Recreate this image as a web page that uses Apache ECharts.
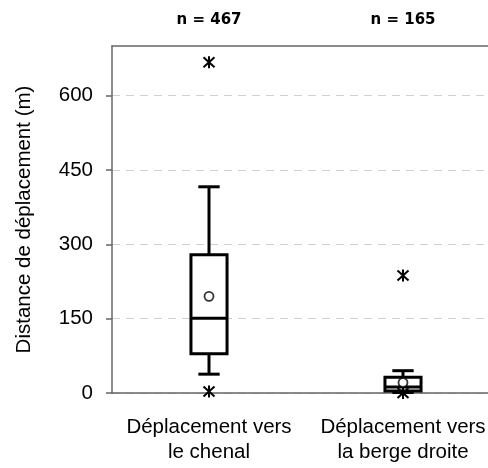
<!DOCTYPE html>
<html><head><meta charset="utf-8">
<script src="https://cdn.jsdelivr.net/npm/echarts@6/dist/echarts.min.js"></script>
<style>html,body{margin:0;padding:0;background:#fff}#c{width:488px;height:468px}</style>
</head><body><div id="c"></div>
<script>
const categories = ['Déplacement vers\nle chenal', 'Déplacement vers\nla berge droite'];
const counts = ['n = 467', 'n = 165'];
// [low whisker, Q1, median, Q3, high whisker]
const boxStats = [[38, 79, 151, 279, 416], [1, 4, 12, 32, 45]];
const means = [195, 21];
const outliers = [[0, 667], [0, 3], [1, 237], [1, 0]];
const yTicks = [0, 150, 300, 450, 600];

const chart = echarts.init(document.getElementById('c'), null, {renderer: 'canvas'});
const FONT = 'Liberation Sans, Arial, sans-serif';
const boxData = boxStats.map((s, i) => [i].concat(s));
const meanData = means.map((m, i) => [i, m]);

chart.setOption({
  animation: false,
  backgroundColor: '#fff',
  grid: {left: 112, top: 46, width: 388, height: 347, outerBoundsMode: 'none', containLabel: false},
  xAxis: [{
    type: 'category', data: categories, position: 'bottom',
    axisLine: {lineStyle: {color: '#666', width: 1.5}},
    axisTick: {show: false},
    axisLabel: {color: '#000', fontSize: 20.5, fontFamily: FONT, lineHeight: 25, margin: 22, interval: 0}
  }, {
    type: 'category', data: counts, position: 'top',
    axisLine: {lineStyle: {color: '#666', width: 1.5}},
    axisTick: {show: false},
    axisLabel: {color: '#000', fontSize: 15, fontWeight: 'bold', fontFamily: 'DejaVu Sans, sans-serif', margin: 18, interval: 0}
  }],
  yAxis: {
    type: 'value', min: 0, max: 700, interval: 150,
    name: 'Distance de déplacement (m)', nameLocation: 'middle', nameGap: 77,
    nameTextStyle: {color: '#000', fontSize: 20.5, fontFamily: FONT},
    axisLine: {show: true, lineStyle: {color: '#666', width: 1.5}},
    axisTick: {show: true, length: 6, lineStyle: {color: '#666', width: 1.5}, customValues: yTicks},
    axisLabel: {color: '#000', fontSize: 20.5, fontFamily: FONT, margin: 19, customValues: yTicks,
      formatter: v => yTicks.indexOf(v) >= 0 ? String(v) : ''},
    splitLine: {show: true, lineStyle: {color: '#d0d0d0', width: 1, type: [8, 6]}}
  },
  series: [{
    type: 'custom', xAxisIndex: 0, data: boxData,
    renderItem: function (params, api) {
      const c = api.value(0);
      const pLow = api.coord([c, api.value(1)]);
      const pQ1 = api.coord([c, api.value(2)]);
      const pMed = api.coord([c, api.value(3)]);
      const pQ3 = api.coord([c, api.value(4)]);
      const pHigh = api.coord([c, api.value(5)]);
      const band = api.size([1, 0])[0];
      const hw = band * 0.093, cw = band * 0.055, x = pQ1[0];
      const st = {stroke: '#000', lineWidth: 3, fill: null};
      return {type: 'group', children: [
        {type: 'line', shape: {x1: x, y1: pQ3[1], x2: x, y2: pHigh[1]}, style: st},
        {type: 'line', shape: {x1: x, y1: pQ1[1], x2: x, y2: pLow[1]}, style: st},
        {type: 'line', shape: {x1: x - cw, y1: pHigh[1], x2: x + cw, y2: pHigh[1]}, style: st},
        {type: 'line', shape: {x1: x - cw, y1: pLow[1], x2: x + cw, y2: pLow[1]}, style: st},
        {type: 'rect', shape: {x: x - hw, y: pQ3[1], width: 2 * hw, height: pQ1[1] - pQ3[1]},
          style: {stroke: '#000', lineWidth: 3, fill: '#fff'}},
        {type: 'line', shape: {x1: x - hw, y1: pMed[1], x2: x + hw, y2: pMed[1]}, style: st}
      ]};
    }
  }, {
    type: 'scatter', xAxisIndex: 0, data: meanData, symbol: 'circle', symbolSize: 9,
    itemStyle: {color: '#fff', borderColor: '#000', borderWidth: 1.8}, z: 5
  }, {
    type: 'custom', xAxisIndex: 0, data: outliers, z: 6,
    renderItem: function (params, api) {
      const p = api.coord([api.value(0), api.value(1)]);
      const r = 6, dx = 5.5, dy = 5;
      const st = {stroke: '#000', lineWidth: 2};
      return {type: 'group', children: [
        {type: 'line', shape: {x1: p[0], y1: p[1] - r, x2: p[0], y2: p[1] + r}, style: st},
        {type: 'line', shape: {x1: p[0] - dx, y1: p[1] - dy, x2: p[0] + dx, y2: p[1] + dy}, style: st},
        {type: 'line', shape: {x1: p[0] - dx, y1: p[1] + dy, x2: p[0] + dx, y2: p[1] - dy}, style: st}
      ]};
    }
  }]
});
</script></body></html>
